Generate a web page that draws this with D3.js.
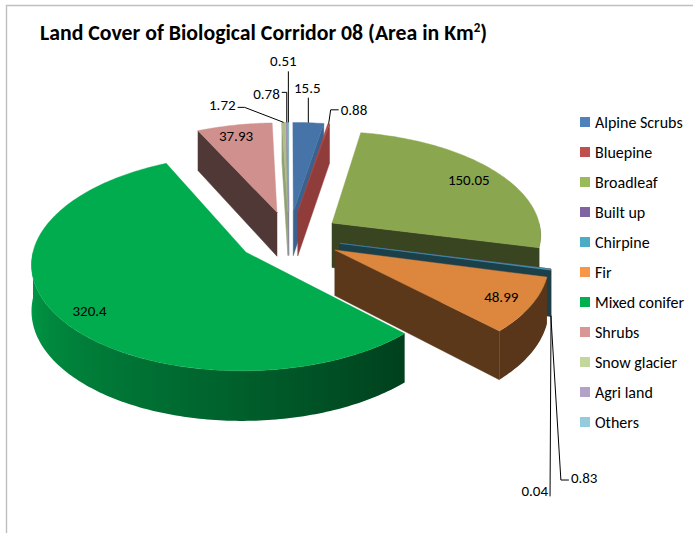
<!DOCTYPE html>
<html>
<head>
<meta charset="utf-8">
<script src="https://cdn.jsdelivr.net/npm/d3@7"></script>
<style>
  body { margin: 0; background: #fff; }
  svg text { font-family: Carlito, Lato, "Liberation Sans", sans-serif; fill: #000; }
</style>
</head>
<body>
<div id="chart-area"></div>
<script>
// land cover classes, in pie order (clockwise from 12 o'clock)
let categories = ["Alpine Scrubs", "Bluepine", "Broadleaf", "Built up", "Chirpine", "Fir",
  "Mixed conifer", "Shrubs", "Snow glacier", "Agri land", "Others"];
let areas = [15.5, 0.88, 150.05, 0.04, 0.83, 48.99, 320.4, 37.93, 1.72, 0.78, 0.51];
let valueLabels = ["15.5", "0.88", "150.05", "0.04", "0.83", "48.99", "320.4", "37.93", "1.72", "0.78", "0.51"];
let colors = ["#4F81BD", "#C0504D", "#9BBB59", "#8064A2", "#4BACC6", "#F79646",
  "#00B050", "#D99694", "#C3D69B", "#B3A2C7", "#93CDDD"];

let width = 693, height = 533;

// 3d look
let cx = 289, cy = 237, R = 210, tilt = 0.5, depth = 45, explode = 52, persp = 0.1;
let topTone = { "Mixed conifer": 0.98, "Shrubs": 0.96 };

// label placement relative to the slice anchor
let labelLayout = {
  "Alpine Scrubs": { r: 1, z: 0, dx: -1, dy: -35, side: "below" },
  "Bluepine": { r: 1, z: 0, dx: 12, dy: -14, side: "left", el: 8 },
  "Broadleaf": { r: 0.78, z: 0, dx: 9, dy: -1, side: "center" },
  "Built up": { r: 1, z: 1, dx: -3, dy: 176, side: "right", el: 0, ey: 5 },
  "Chirpine": { r: 1, z: 1, dx: 20, dy: 162, side: "left", el: 8, ey: 2 },
  "Fir": { r: 0.78, z: 0, dx: 15, dy: 4, side: "center" },
  "Mixed conifer": { r: 0.78, z: 0, dx: -13, dy: 8, side: "center" },
  "Shrubs": { r: 0.78, z: 0, dx: -7, dy: -7, side: "center" },
  "Snow glacier": { r: 1, z: 0, dx: -48, dy: -17, side: "right", el: 7, ey: 2 },
  "Agri land": { r: 1, z: 0, dx: -7, dy: -28, side: "right", el: 5, ey: -2 },
  "Others": { r: 1, z: 0, dx: -5, dy: -61, side: "below" }
};

let svg = d3.select("#chart-area").append("svg")
  .attr("width", width).attr("height", height);
let defs = svg.append("defs");

// chart frame
svg.append("path")
  .attr("d", "M6.5," + height + "V5.5H" + width)
  .attr("fill", "none").attr("stroke", "#bfbfbf").attr("stroke-width", 1.4);

let title = svg.append("text")
  .attr("x", 40).attr("y", 40)
  .attr("font-size", 21.8).attr("font-weight", "bold");
title.append("tspan").text("Land Cover of Biological Corridor 08 (Area in Km");
title.append("tspan").attr("font-size", 13).attr("dy", -8).text("2");
title.append("tspan").attr("dy", 8).text(")");

function proj(ang, r, z, off) {
  let u = off[0] + r * Math.sin(ang);
  let v = off[1] - r * Math.cos(ang);
  let f = 1 + persp * v / R;
  return [cx + u * f, cy + (v * tilt + z) * f];
}

function arcPts(a0, a1, r, z, off) {
  let n = Math.max(2, Math.ceil((a1 - a0) / (Math.PI / 180)) + 1);
  return d3.range(n).map(k => proj(a0 + (a1 - a0) * k / (n - 1), r, z, off));
}

function tone(c, k) {
  let col = d3.rgb(c);
  return d3.rgb(col.r * k, col.g * k, col.b * k).formatHex();
}

// wall brightness from the direction the wall faces
function wallTone(ang) {
  let deg = ang * 180 / Math.PI;
  return Math.max(0.36, Math.min(0.9, 0.36 + (deg - 135) / 135 * 0.54));
}

let line = d3.line();

let arcs = d3.pie().sort(null).value(d => d)(areas);
arcs.forEach((a, i) => {
  a.mid = (a.startAngle + a.endAngle) / 2;
  a.off = [explode * Math.sin(a.mid), -explode * Math.cos(a.mid)];
  a.name = categories[i];
  a.color = colors[i];
  a.i = i;
});

// far slices first
let order = arcs.slice().sort((a, b) => (-Math.cos(a.mid)) - (-Math.cos(b.mid)));

let pieG = svg.append("g");

order.forEach(a => {
  let g = pieG.append("g");
  let a0 = a.startAngle, a1 = a.endAngle, off = a.off;

  // radial faces
  [[a0, -Math.sin(a0)], [a1, Math.sin(a1)]].forEach(([ang, nv]) => {
    if (nv <= 1e-6) return;
    let c = tone(a.color, nv > 0.3 ? 0.37 : 0.75);
    g.append("path")
      .attr("d", line([proj(ang, 0, 0, off), proj(ang, R, 0, off), proj(ang, R, depth, off), proj(ang, 0, depth, off)]) + "Z")
      .attr("fill", c).attr("stroke", c).attr("stroke-width", 0.5);
  });

  // outer wall with a gradient along x
  let s = Math.max(a0, Math.PI / 2), e = Math.min(a1, 3 * Math.PI / 2);
  if (e > s) {
    let n = Math.max(2, Math.ceil((e - s) / (Math.PI / 180)) + 1);
    let angs = d3.range(n).map(k => s + (e - s) * k / (n - 1));
    let topPts = angs.map(t => proj(t, R, 0, off));
    let botPts = angs.map(t => proj(t, R, depth, off));
    let xs = topPts.map(p => p[0]);
    let x0 = d3.min(xs), x1 = d3.max(xs);
    let grad = defs.append("linearGradient")
      .attr("id", "wall" + a.i)
      .attr("gradientUnits", "userSpaceOnUse")
      .attr("x1", x0).attr("x2", x1 > x0 ? x1 : x0 + 1).attr("y1", 0).attr("y2", 0);
    let stops = angs.map((t, k) => ({ o: x1 > x0 ? (xs[k] - x0) / (x1 - x0) : 0, c: tone(a.color, wallTone(t)) }))
      .sort((p, q) => p.o - q.o);
    grad.selectAll("stop").data(stops).enter().append("stop")
      .attr("offset", d => d.o).attr("stop-color", d => d.c);
    g.append("path")
      .attr("d", line(topPts.concat(botPts.reverse())) + "Z")
      .attr("fill", "url(#wall" + a.i + ")");
  }

  // top face
  let tc = tone(a.color, topTone[a.name] || 0.89);
  g.append("path")
    .attr("d", line([proj(a0, 0, 0, off)].concat(arcPts(a0, a1, R, 0, off))) + "Z")
    .attr("fill", tc).attr("stroke", tc).attr("stroke-width", 0.4);
});

// data labels
let labelG = svg.append("g").attr("font-size", 15);
arcs.forEach((a, i) => {
  let L = labelLayout[a.name];
  let p = proj(a.mid, L.r * R, L.z * depth, a.off);
  let tx = p[0] + L.dx, ty = p[1] + L.dy;
  let anchor = L.side === "left" ? "start" : L.side === "right" ? "end" : "middle";
  labelG.append("text")
    .attr("x", tx).attr("y", ty)
    .attr("text-anchor", anchor)
    .attr("dominant-baseline", "central")
    .text(valueLabels[i]);
  let pts = null;
  if (L.side === "below") {
    pts = [p, [p[0], ty + 10]];
  } else if (L.side === "left") {
    let yy = ty + (L.ey || 0);
    pts = [p, [tx - 2 - L.el, yy], [tx - 2, yy]];
  } else if (L.side === "right") {
    let yy = ty + (L.ey || 0);
    pts = [p, [tx + 2 + L.el, yy], [tx + 2, yy]];
  }
  if (pts) {
    labelG.append("path").attr("d", line(pts))
      .attr("fill", "none").attr("stroke", "#000").attr("stroke-width", 1);
  }
});

// legend
let legend = svg.append("g").attr("font-size", 16);
categories.forEach((c, i) => {
  let y = 122 + i * 30;
  legend.append("rect").attr("x", 580).attr("y", y - 5).attr("width", 10).attr("height", 10)
    .attr("fill", colors[i]);
  legend.append("text").attr("x", 595).attr("y", y)
    .attr("dominant-baseline", "central").text(c);
});
</script>
</body>
</html>
